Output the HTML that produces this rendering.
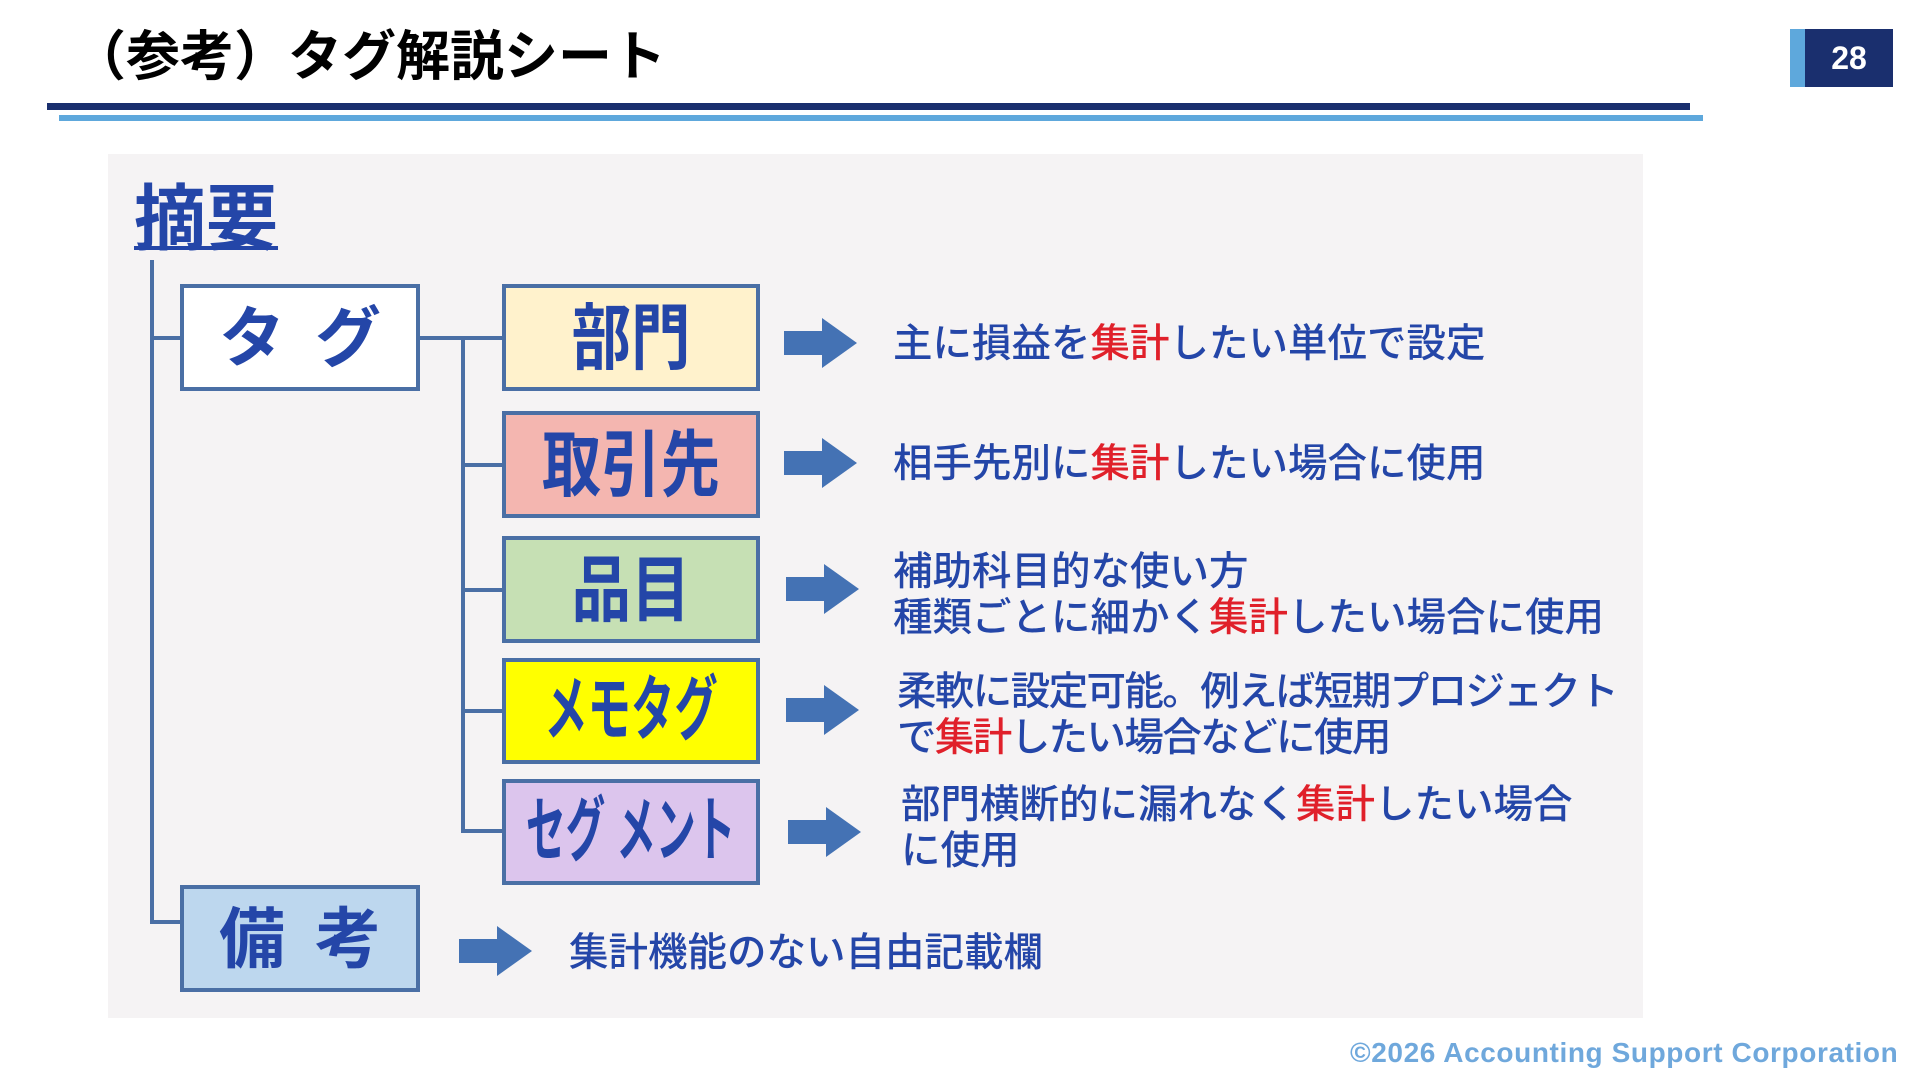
<!DOCTYPE html>
<html><head><meta charset="utf-8"><style>
*{margin:0;padding:0;box-sizing:border-box}
body{width:1920px;height:1080px;background:#fff;position:relative;overflow:hidden;font-family:"Liberation Sans","Noto Sans CJK JP",sans-serif}
.a{position:absolute}
.box{position:absolute;border:4px solid #4a6fa5;display:flex;align-items:center;justify-content:center;color:#2446a8;font-weight:bold;font-size:66px;line-height:1;white-space:nowrap;overflow:hidden}
.ln{position:absolute;background:#4a6fa5}
.d{position:absolute;color:#2446a8;font-size:39.5px;line-height:46px;font-weight:500;white-space:nowrap}
.r{color:#e0202a}
</style></head><body>
<div class="a" style="left:72px;top:22px;font-size:54px;font-weight:bold;color:#000;line-height:70px">（参考）タグ解説シート</div>
<div class="a" style="left:47px;top:103px;width:1643px;height:7px;background:#1a2f6e"></div>
<div class="a" style="left:59px;top:115px;width:1644px;height:6px;background:#5ea8dc"></div>
<div class="a" style="left:1790px;top:29px;width:103px;height:58px;background:#1a2f6e"></div>
<div class="a" style="left:1790px;top:29px;width:15px;height:58px;background:#5ea8dc"></div>
<div class="a" style="left:1805px;top:29px;width:88px;height:58px;color:#fff;font-weight:bold;font-size:32px;line-height:58px;text-align:center">28</div>

<div class="a" style="left:108px;top:154px;width:1535px;height:864px;background:#f5f3f4"></div>
<div class="a" style="left:134px;top:178px;font-size:72px;line-height:84px;color:#2446a8;font-weight:bold;text-decoration:underline;text-decoration-thickness:4px">摘要</div>

<div class="ln" style="left:150px;top:260px;width:4px;height:664px"></div>
<div class="ln" style="left:150px;top:336px;width:32px;height:4px"></div>
<div class="ln" style="left:150px;top:920px;width:32px;height:4px"></div>
<div class="ln" style="left:418px;top:336px;width:86px;height:4px"></div>
<div class="ln" style="left:461px;top:336px;width:4px;height:497px"></div>
<div class="ln" style="left:461px;top:463px;width:43px;height:4px"></div>
<div class="ln" style="left:461px;top:588px;width:43px;height:4px"></div>
<div class="ln" style="left:461px;top:709px;width:43px;height:4px"></div>
<div class="ln" style="left:461px;top:829px;width:43px;height:4px"></div>

<div class="box" style="left:180px;top:284px;width:240px;height:107px;background:#fff;letter-spacing:30px;padding-left:30px">タグ</div>
<div class="box" style="left:502px;top:284px;width:258px;height:107px;background:#fff2cc"><span style="display:inline-block;transform:scale(0.9,1.1)">部門</span></div>
<div class="box" style="left:502px;top:411px;width:258px;height:107px;background:#f4b6b0"><span style="display:inline-block;transform:scale(0.9,1.1)">取引先</span></div>
<div class="box" style="left:502px;top:536px;width:258px;height:107px;background:#c6e0b4"><span style="display:inline-block;transform:scale(0.9,1.1)">品目</span></div>
<div class="box" style="left:502px;top:658px;width:258px;height:106px;background:#ffff00;font-size:62px"><span style="display:inline-block;transform:scale(0.7,1.15)">メモタグ</span></div>
<div class="box" style="left:502px;top:779px;width:258px;height:106px;background:#dcc5ed;font-size:62px"><span style="display:inline-block;transform:scale(0.64,1.15)">セグ メント</span></div>
<div class="box" style="left:180px;top:885px;width:240px;height:107px;background:#bdd7ee;letter-spacing:30px;padding-left:30px">備考</div>

<svg class="a" style="left:0;top:0" width="1920" height="1080">
<g fill="#4472b4">
<polygon points="784,331 822,331 822,318 857,343 822,368 822,355 784,355"/>
<polygon points="784,451 822,451 822,438 857,463 822,488 822,475 784,475"/>
<polygon points="786,577 824,577 824,564 859,589 824,614 824,601 786,601"/>
<polygon points="786,698 824,698 824,685 859,710 824,735 824,722 786,722"/>
<polygon points="788,820 826,820 826,807 861,832 826,857 826,844 788,844"/>
<polygon points="459,939 497,939 497,926 532,951 497,976 497,963 459,963"/>
</g></svg>

<div class="d" style="left:893px;top:321px">主に損益を<span class="r">集計</span>したい単位で設定</div>
<div class="d" style="left:893px;top:441px">相手先別に<span class="r">集計</span>したい場合に使用</div>
<div class="d" style="left:893px;top:549px">補助科目的な使い方<br>種類ごとに細かく<span class="r">集計</span>したい場合に使用</div>
<div class="d" style="left:897px;top:669px;letter-spacing:-1.6px">柔軟に設定可能。例えば短期プロジェクト<br>で<span class="r">集計</span>したい場合などに使用</div>
<div class="d" style="left:901px;top:782px">部門横断的に漏れなく<span class="r">集計</span>したい場合<br>に使用</div>
<div class="d" style="left:569px;top:930px">集計機能のない自由記載欄</div>

<div class="a" style="left:1350px;top:1036px;font-size:28px;letter-spacing:0.6px;font-weight:bold;color:#6fa8dc;white-space:nowrap;line-height:34px">©2026 Accounting Support Corporation</div>
</body></html>
